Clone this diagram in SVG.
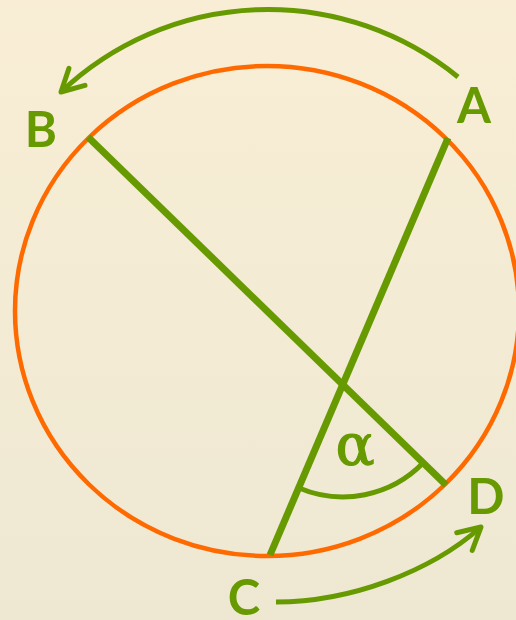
<svg xmlns="http://www.w3.org/2000/svg" width="516" height="620" viewBox="0 0 516 620">
  <defs>
    <linearGradient id="bg" x1="0" y1="0" x2="0" y2="1">
      <stop offset="0" stop-color="#f9eed5"/>
      <stop offset="1" stop-color="#eee8d3"/>
    </linearGradient>
    <marker id="chev" markerUnits="userSpaceOnUse" orient="auto" refX="0" refY="0" markerWidth="40" markerHeight="40" viewBox="-30 -20 40 40" overflow="visible">
      <path d="M-22,-11.7 L0,0 L-22,11.7" fill="none" stroke="#669a00" stroke-width="5" stroke-linecap="round" stroke-linejoin="round"/>
    </marker>
    <style>
      .green { fill: none; stroke: #669a00; stroke-linecap: butt; }
      .chord { stroke-width: 7; }
      .arrow { stroke-width: 5; marker-end: url(#chev); }
      .lbl { font-family: Lato, "Open Sans", "Liberation Sans", sans-serif; font-weight: bold; font-size: 49px; fill: #669a00; text-anchor: middle; }
      .alpha { font-family: "DejaVu Serif", "Liberation Serif", serif; font-size: 58px; fill: #669a00; stroke: #669a00; stroke-width: 1.2; text-anchor: middle; }
    </style>
  </defs>
  <rect width="516" height="620" fill="url(#bg)"/>
  <g id="circle">
    <ellipse cx="267" cy="311" rx="252" ry="245" fill="none" stroke="#ff6a00" stroke-width="4.5"/>
  </g>
  <g id="connectors">
    <line id="chord-AC" class="green chord" x1="448" y1="138" x2="270" y2="555"/>
    <line id="chord-BD" class="green chord" x1="88" y1="137" x2="446" y2="485"/>
    <path id="angle-arc" class="green" stroke-width="5" d="M299,488 A112,112 0 0 0 423,463"/>
    <path id="arrow-AB" class="green arrow" d="M458,77 A301,301 0 0 0 61,92"/>
    <path id="arrow-CD" class="green arrow" d="M276,602 C350,602 430,572 481,527"/>
  </g>
  <g id="label-A"><text class="lbl" x="474" y="123">A</text></g>
  <g id="label-B"><text class="lbl" x="41" y="147">B</text></g>
  <g id="label-C"><text class="lbl" x="244" y="615">C</text></g>
  <g id="label-D"><text class="lbl" x="486" y="514">D</text></g>
  <g id="label-alpha"><text class="alpha" x="355" y="465">α</text></g>
</svg>
